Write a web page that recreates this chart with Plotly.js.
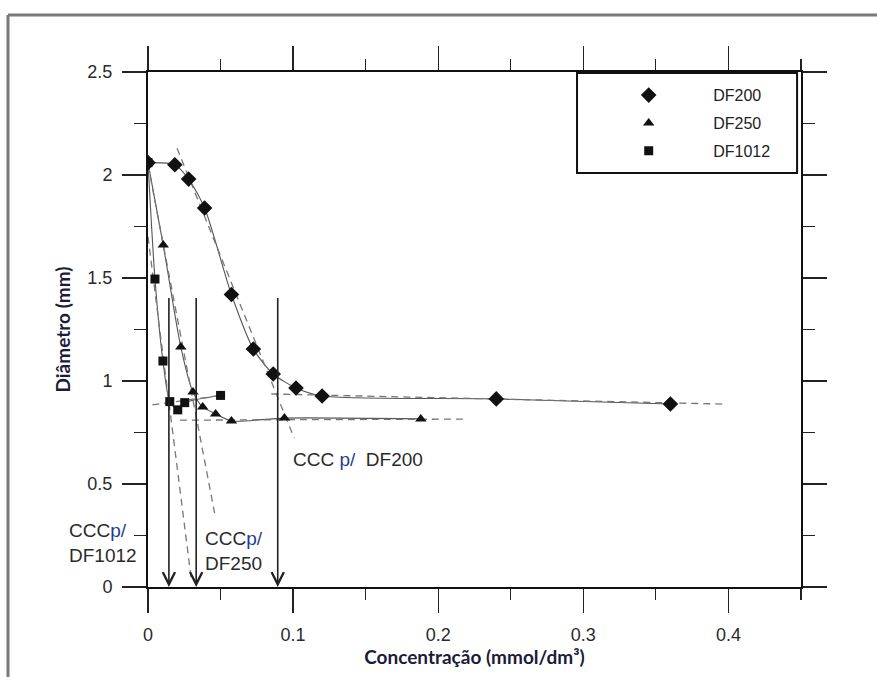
<!DOCTYPE html>
<html><head><meta charset="utf-8">
<script src="https://cdn.plot.ly/plotly-3.0.1.min.js"></script>
<style>html,body{margin:0;padding:0;background:#fff}#chart{width:877px;height:677px}</style>
</head><body><div id="chart"></div>
<script>
// ---- data ----
const seriesNames = ['DF200', 'DF250', 'DF1012'];

const df200X = [0, 0.0185, 0.028, 0.039, 0.0575, 0.0726, 0.0863, 0.102, 0.12, 0.24, 0.36];
const df200Y = [2.06, 2.05, 1.98, 1.84, 1.42, 1.155, 1.034, 0.966, 0.927, 0.913, 0.888];

const df250X = [0, 0.0105, 0.0226, 0.031, 0.0377, 0.0466, 0.0575, 0.094, 0.188];
const df250Y = [2.06, 1.66, 1.165, 0.947, 0.874, 0.84, 0.806, 0.82, 0.816];

const df1012X = [0, 0.0048, 0.0103, 0.015, 0.0205, 0.0253, 0.05];
const df1012Y = [2.06, 1.495, 1.097, 0.90, 0.86, 0.895, 0.93];

// dashed construction lines (end points)
const df200SteepX = [0.020, 0.1007];
const df200SteepY = [2.13, 0.723];
const df200PlateauX = [0.085, 0.397];
const df200PlateauY = [0.937, 0.888];
const df250SteepX = [0.0, 0.0459];
const df250SteepY = [2.05, 0.359];
const df250PlateauX = [0.022, 0.218];
const df250PlateauY = [0.81, 0.815];
const df1012SteepX = [0.0, 0.0298];
const df1012SteepY = [1.70, 0.04];
const df1012PlateauX = [0.003, 0.05];
const df1012PlateauY = [0.884, 0.93];

// critical coagulation concentrations (arrows)
const cccX = [0.0144, 0.0332, 0.0894];
const cccTop = 1.41;

const xTickVals = [0, 0.1, 0.2, 0.3, 0.4];
const yTickVals = [0, 0.5, 1, 1.5, 2, 2.5];

// ---- styles ----
const solidLine = {color: '#555', width: 1.1, shape: 'spline', smoothing: 0.7};
const dashLine = {color: '#777', width: 1.3, dash: '7px,5px'};
const markColor = '#111';

function lineTrace(x, y, line) {
  return {x, y, type: 'scatter', mode: 'lines', line, showlegend: false, hoverinfo: 'skip'};
}

const traces = [
  lineTrace(df200X, df200Y, solidLine),
  lineTrace(df250X, df250Y, solidLine),
  lineTrace(df1012X, df1012Y, solidLine),
  lineTrace(df200SteepX, df200SteepY, dashLine),
  lineTrace(df200PlateauX, df200PlateauY, dashLine),
  lineTrace(df250SteepX, df250SteepY, dashLine),
  lineTrace(df250PlateauX, df250PlateauY, dashLine),
  lineTrace(df1012SteepX, df1012SteepY, dashLine),
  lineTrace(df1012PlateauX, df1012PlateauY, dashLine),
  {x: df200X, y: df200Y, type: 'scatter', mode: 'markers', name: seriesNames[0], legendgroup: 'a',
   marker: {symbol: 'diamond', size: 12, color: markColor}},
  {x: df250X, y: df250Y, type: 'scatter', mode: 'markers', name: seriesNames[1], legendgroup: 'b',
   marker: {symbol: 'triangle-up', size: 10, color: markColor}},
  {x: df1012X, y: df1012Y, type: 'scatter', mode: 'markers', name: seriesNames[2], legendgroup: 'c',
   marker: {symbol: 'square', size: 9, color: markColor}}
];

const txtFont = {family: 'Liberation Sans, Arial, sans-serif', size: 19, color: '#2a2a2a'};
const pSpan = '<span style="color:#1d3f95">p/</span>';

const annotations = cccX.map(x => ({
  x: x, y: 0, ax: x, ay: cccTop, xref: 'x', yref: 'y', axref: 'x', ayref: 'y',
  text: '', showarrow: true, arrowhead: 5, arrowsize: 1.5, arrowwidth: 1.6,
  arrowcolor: '#222', standoff: 0, startstandoff: 0
}));
annotations.push(
  {x: 0.0986, y: 0.617, xref: 'x', yref: 'y', xanchor: 'left', yanchor: 'middle', showarrow: false,
   text: 'CCC ' + pSpan + '  DF200', font: txtFont},
  {x: -0.124, y: 0.214, xref: 'paper', yref: 'y', xanchor: 'left', yanchor: 'middle', align: 'left', showarrow: false,
   text: 'CCC' + pSpan + '<br>DF1012', font: txtFont},
  {x: 0.0377, y: 0.177, xref: 'x', yref: 'y', xanchor: 'left', yanchor: 'middle', align: 'left', showarrow: false,
   text: 'CCC' + pSpan + '<br>DF250', font: txtFont}
);

const axisCommon = {
  showgrid: false, zeroline: false, showline: true, linecolor: '#111', linewidth: 2,
  mirror: 'ticks', ticks: 'outside', ticklen: 24, tickwidth: 1.3, tickcolor: '#222',
  ticklabelstandoff: 6,
  tickfont: {family: 'Liberation Sans, Arial, sans-serif', size: 18, color: '#2a2a2a'},
  automargin: false, fixedrange: true
};
const titleFont = {family: 'Lato, Noto Sans, sans-serif', size: 19, weight: 700, color: '#1b1b3a'};

const layout = {
  width: 877, height: 677,
  margin: {l: 148, r: 76, t: 72, b: 90},
  paper_bgcolor: '#fff', plot_bgcolor: '#fff',
  font: {family: 'Liberation Sans, Arial, sans-serif', color: '#222'},
  xaxis: Object.assign({}, axisCommon, {
    range: [0, 0.45], tickvals: xTickVals,
    minor: {dtick: 0.05, tick0: 0, ticks: 'outside', ticklen: 11, tickwidth: 1.2, tickcolor: '#222', showgrid: false},
    title: {text: 'Concentração (mmol/dm³)', font: titleFont, standoff: 3}
  }),
  yaxis: Object.assign({}, axisCommon, {
    range: [0, 2.5], tickvals: yTickVals,
    minor: {dtick: 0.25, tick0: 0, ticks: 'outside', ticklen: 12, tickwidth: 1.2, tickcolor: '#222', showgrid: false},
    title: {text: 'Diâmetro (mm)', font: titleFont, standoff: 12}
  }),
  legend: {
    x: 0.668, y: 0.988, xanchor: 'left', yanchor: 'top',
    bgcolor: 'rgba(0,0,0,0)', borderwidth: 0, itemwidth: 119, tracegroupgap: 4,
    font: {family: 'Liberation Sans, Arial, sans-serif', size: 16, color: '#222'}
  },
  shapes: [
    // legend box
    {type: 'rect', xref: 'paper', yref: 'paper', x0: 0.657, x1: 0.994, y0: 0.804, y1: 0.998,
     line: {color: '#111', width: 2}, fillcolor: 'rgba(0,0,0,0)', layer: 'above'},
    // outer gray frame (top and left)
    {type: 'line', xref: 'paper', yref: 'paper', x0: -0.2144, x1: 1.2, y0: 1.1107, y1: 1.1107,
     line: {color: '#7a7a7a', width: 3}},
    {type: 'line', xref: 'paper', yref: 'paper', x0: -0.2144, x1: -0.2144, y0: 1.1107, y1: -0.3,
     line: {color: '#7a7a7a', width: 3}}
  ],
  annotations: annotations
};

Plotly.newPlot('chart', traces, layout, {displayModeBar: false, staticPlot: true});
</script>
</body></html>
